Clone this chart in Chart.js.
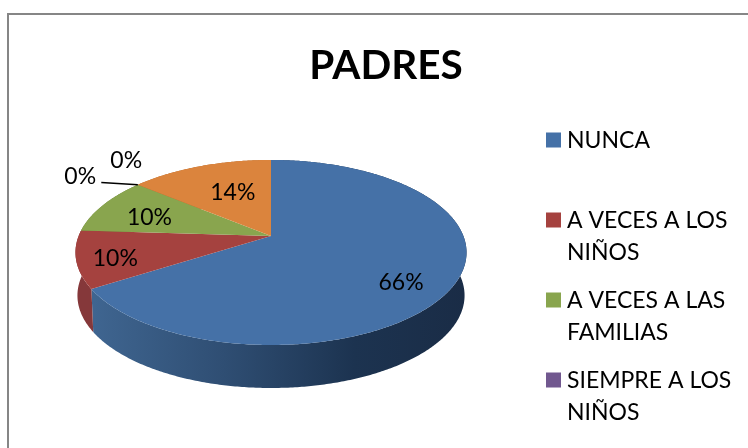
<!DOCTYPE html>
<html><head><meta charset="utf-8">
<style>html,body{margin:0;padding:0;background:#fff}canvas{display:block}</style>
<script src="https://cdn.jsdelivr.net/npm/chart.js@4"></script>
</head><body><canvas id="c" width="748" height="448"></canvas>
<script>
const chartTitle = "PADRES";
const categories = ["NUNCA", "A VECES A LOS NIÑOS", "A VECES A LAS FAMILIAS", "SIEMPRE A LOS NIÑOS", "", ""];
const legendLines = [["NUNCA"], ["A VECES A LOS", "NIÑOS"], ["A VECES A LAS", "FAMILIAS"], ["SIEMPRE A LOS", "NIÑOS"]];
const values = [66, 10, 10, 0, 0, 14];
const labelsText = ["66%", "10%", "10%", "0%", "0%", "14%"];
const colors = ["#4571A7", "#A5423F", "#89A54E", "#71588F", "#4198AF", "#DB843D"];
const wallColors = ["#2C4A6E", "#85383A", "#6E843E", "#5A4672", "#34798C", "#B06A31"];
const labelNudges = [[14, 16.5], [-31, 7.5], [-10, 2.5], [-101, -25], [-55, -41], [10, 4.5]];

const view = {cx: 271, cy: 236, B: 192.4, A: 89.6, k: 0.178, depth: 43, wallTaper: 0.99, labelR: 0.65};
function project(theta, r, drop) {
  const x = r * Math.cos(theta), y = r * Math.sin(theta), d = 1 - view.k * y;
  const s = drop ? view.wallTaper : 1;
  return [view.cx + s * view.B * x / d, view.cy + view.A * y / d + (drop || 0)];
}
function rim(ctx, a0, a1, drop, reverse, r) {
  const n = Math.max(2, Math.ceil(Math.abs(a1 - a0) / 0.01));
  for (let i = 0; i <= n; i++) {
    const t = reverse ? 1 - i / n : i / n;
    const p = project(a0 + (a1 - a0) * t, r === undefined ? 1 : r, drop);
    ctx.lineTo(p[0], p[1]);
  }
}
const pie3d = {
  id: "pie3d",
  beforeDraw(chart) {
    const ctx = chart.ctx;
    ctx.save();
    ctx.fillStyle = "#fff";
    ctx.fillRect(0, 0, chart.width, chart.height);
    ctx.strokeStyle = "#868686";
    ctx.lineWidth = 2;
    ctx.beginPath();
    ctx.moveTo(8, chart.height);
    ctx.lineTo(8, 14);
    ctx.lineTo(chart.width, 14);
    ctx.stroke();
    ctx.restore();
  },
  beforeDatasetsDraw(chart) {
    const ctx = chart.ctx, arcs = chart.getDatasetMeta(0).data;
    ctx.save();
    arcs.forEach((arc, i) => {
      if (values[i] === 0) return;
      let fill = wallColors[i];
      if (i === 0) {
        const g = ctx.createLinearGradient(94, 0, 466, 0);
        g.addColorStop(0, "#3F6590");
        g.addColorStop(0.35, "#2F4E73");
        g.addColorStop(0.7, "#1C3350");
        g.addColorStop(1, "#1A2C46");
        fill = g;
      }
      ctx.fillStyle = fill;
      ctx.beginPath();
      rim(ctx, arc.startAngle, arc.endAngle, 0, false);
      rim(ctx, arc.startAngle, arc.endAngle, view.depth, true);
      ctx.closePath();
      ctx.fill();
    });
    arcs.forEach((arc, i) => {
      if (values[i] === 0) return;
      ctx.fillStyle = colors[i];
      ctx.beginPath();
      ctx.moveTo(view.cx, view.cy);
      rim(ctx, arc.startAngle, arc.endAngle, 0, false);
      ctx.closePath();
      ctx.fill();
    });
    ctx.restore();
    return false;
  },
  afterDraw(chart) {
    const ctx = chart.ctx, arcs = chart.getDatasetMeta(0).data;
    ctx.save();
    ctx.fillStyle = "#000";
    ctx.font = "23px Lato";
    ctx.textAlign = "center";
    ctx.textBaseline = "middle";
    arcs.forEach((arc, i) => {
      const mid = (arc.startAngle + arc.endAngle) / 2;
      const p = project(mid, view.labelR);
      const lx = p[0] + labelNudges[i][0], ly = p[1] + labelNudges[i][1];
      ctx.fillText(labelsText[i], lx, ly);
      if (i === 3) {
        const e = project(arc.startAngle, 1);
        ctx.strokeStyle = "#000";
        ctx.lineWidth = 1.5;
        ctx.beginPath();
        ctx.moveTo(lx + 21, ly + 6);
        ctx.lineTo(e[0], e[1]);
        ctx.stroke();
      }
    });
    ctx.textAlign = "left";
    ctx.font = "23px Lato";
    legendLines.forEach((lines, i) => {
      const y = 140 + i * 80;
      ctx.fillStyle = colors[i];
      ctx.fillRect(546, y - 7.5, 15, 15);
      ctx.fillStyle = "#000";
      lines.forEach((t, j) => ctx.fillText(t, 567, y + 0.5 + j * 32));
    });
    ctx.restore();
  }
};
new Chart(document.getElementById("c"), {
  type: "pie",
  data: {labels: categories, datasets: [{data: values, backgroundColor: colors, borderWidth: 0}]},
  options: {
    responsive: false,
    animation: false,
    layout: {padding: {left: 24, top: 0}},
    plugins: {
      legend: {display: false},
      tooltip: {enabled: false},
      title: {display: true, text: chartTitle, color: "#000",
        font: {family: "Lato", size: 40.5, weight: "bold"}, padding: {top: 42, bottom: 10}}
    }
  },
  plugins: [pie3d]
});
</script></body></html>
